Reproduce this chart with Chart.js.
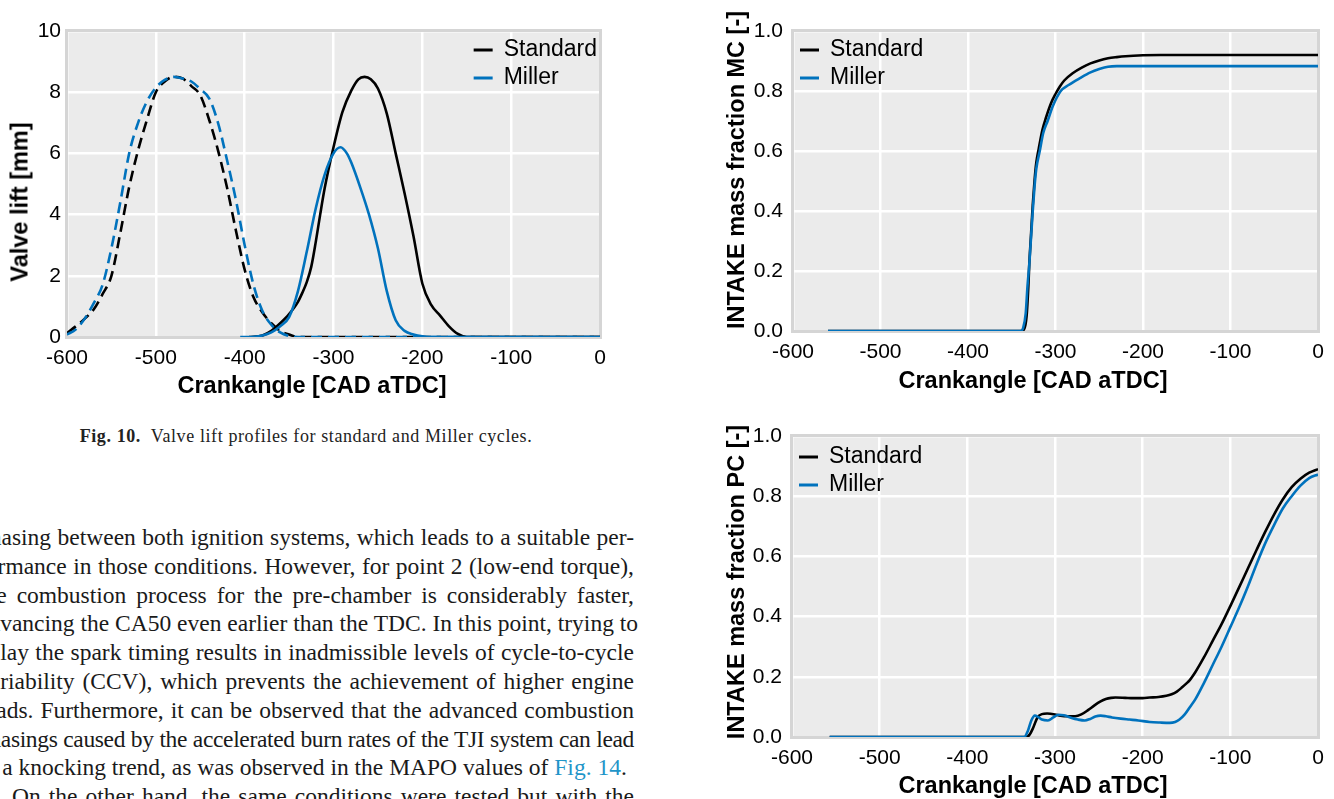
<!DOCTYPE html>
<html>
<head>
<meta charset="utf-8">
<script src="https://cdn.jsdelivr.net/npm/chart.js@4.4.1/dist/chart.umd.min.js"></script>
<style>
  html, body { margin: 0; padding: 0; background: #fff; }
  body { position: relative; width: 1334px; height: 799px; overflow: hidden; }
  canvas { position: absolute; }
  .axt {
    position: absolute; white-space: nowrap; color: #000;
    font: bold 23.5px "Liberation Sans", Arial, sans-serif;
    transform: translate(-50%, -50%);
  }
  .axt.v { transform: translate(-50%, -50%) rotate(-90deg); }
  .caption {
    position: absolute; left: 0; width: 612px; top: 426px; text-align: center;
    font: 18px "Liberation Serif", "Times New Roman", serif; letter-spacing: 0.6px; color: #222;
  }
  .body {
    position: absolute; left: -22px; top: 523px; width: 656px;
    font: 23.5px/28.8px "Liberation Serif", "Times New Roman", serif; color: #1a1a1a;
  }
  .body div { text-align: justify; text-align-last: justify; white-space: nowrap; }
  .body div.tight { letter-spacing: -0.35px; }
  .body div.last { text-align-last: left; }
  .body div.indent { text-indent: 34px; text-align-last: justify; }
  .body a { color: #1f95c8; text-decoration: none; }
</style>
</head>
<body>

<canvas id="lift" width="620" height="400" style="left:0;top:0"></canvas>
<canvas id="mc" width="634" height="400" style="left:700px;top:0"></canvas>
<canvas id="pc" width="634" height="399" style="left:700px;top:400px"></canvas>

<div class="axt v" style="left:20px;top:202px">Valve lift [mm]</div>
<div class="axt" style="left:312px;top:385px">Crankangle [CAD aTDC]</div>
<div class="axt v" style="left:736px;top:170px">INTAKE mass fraction MC [-]</div>
<div class="axt" style="left:1033px;top:380px">Crankangle [CAD aTDC]</div>
<div class="axt v" style="left:736px;top:582px">INTAKE mass fraction PC [-]</div>
<div class="axt" style="left:1033px;top:785px">Crankangle [CAD aTDC]</div>

<div class="caption"><b>Fig. 10.</b>&nbsp; Valve lift profiles for standard and Miller cycles.</div>

<div class="body">
  <div>phasing between both ignition systems, which leads to a suitable per-</div>
  <div>formance in those conditions. However, for point 2 (low-end torque),</div>
  <div>the combustion process for the pre-chamber is considerably faster,</div>
  <div>advancing the CA50 even earlier than the TDC. In this point, trying to</div>
  <div>delay the spark timing results in inadmissible levels of cycle-to-cycle</div>
  <div>variability (CCV), which prevents the achievement of higher engine</div>
  <div>loads. Furthermore, it can be observed that the advanced combustion</div>
  <div class="tight">phasings caused by the accelerated burn rates of the TJI system can lead</div>
  <div class="last">to a knocking trend, as was observed in the MAPO values of <a>Fig. 14</a>.</div>
  <div class="indent">On the other hand, the same conditions were tested but with the</div>
</div>

<script>
// valve lift [mm] vs crank angle [CAD aTDC]
const stdExhaustCad  = [-600, -590, -580, -570, -560, -550, -540, -530, -520, -510, -500, -490, -480, -470, -460, -450, -440, -430, -420, -410, -400, -390, -380, -370, -360, -350, -340, 0];
const stdExhaustLift = [0.13, 0.35, 0.6, 0.9, 1.4, 2.0, 3.4, 4.9, 6.1, 7.1, 8.0, 8.35, 8.5, 8.45, 8.2, 7.9, 7.1, 6.1, 4.9, 3.5, 2.2, 1.3, 0.8, 0.45, 0.2, 0.08, 0, 0];
const milExhaustCad  = [-600, -590, -580, -570, -560, -550, -540, -530, -520, -510, -500, -490, -480, -470, -460, -450, -440, -430, -420, -410, -400, -390, -380, -370, -360, -350, -340, 0];
const milExhaustLift = [0.08, 0.25, 0.6, 1.1, 1.7, 2.9, 4.4, 6.0, 7.0, 7.7, 8.15, 8.4, 8.5, 8.45, 8.35, 8.1, 7.8, 7.0, 5.8, 4.5, 3.0, 1.7, 0.85, 0.4, 0.15, 0.03, 0, 0];
const stdIntakeCad   = [-395, -380, -370, -360, -350, -340, -335, -330, -325, -320, -315, -310, -300, -290, -280, -272, -265, -258, -250, -240, -230, -220, -210, -200, -190, -180, -170, -160, -150, 0];
const stdIntakeLift  = [0, 0.05, 0.2, 0.45, 0.75, 1.15, 1.45, 1.8, 2.3, 3.1, 4.0, 4.85, 6.2, 7.35, 8.05, 8.42, 8.5, 8.42, 8.12, 7.3, 6.0, 4.7, 3.3, 1.75, 1.05, 0.7, 0.35, 0.1, 0, 0];
const milIntakeCad   = [-405, -390, -380, -370, -360, -350, -340, -330, -320, -310, -300, -292, -285, -280, -270, -260, -250, -240, -230, -220, -210, -200, -190, 0];
const milIntakeLift  = [0, 0.01, 0.05, 0.15, 0.35, 0.65, 1.5, 2.8, 4.2, 5.3, 6.0, 6.2, 6.0, 5.7, 4.9, 4.0, 2.9, 1.5, 0.55, 0.2, 0.08, 0.02, 0, 0];

// intake mass fraction, main chamber
const mcStdCad  = [-560, -340, -336, -333, -331, -330, -328, -326, -324, -322, -319, -315, -311, -305, -300, -295, -290, -280, -270, -260, -250, -240, -230, -220, -200, -180, 0];
const mcStdFrac = [0, 0, 0.005, 0.05, 0.15, 0.22, 0.32, 0.42, 0.5, 0.56, 0.61, 0.67, 0.71, 0.76, 0.79, 0.815, 0.835, 0.86, 0.878, 0.892, 0.902, 0.909, 0.913, 0.916, 0.919, 0.92, 0.92];
const mcMilCad  = [-560, -340, -337, -334, -332, -330, -328, -326, -324, -322, -318, -314, -309, -303, -294, -285, -272, -260, -250, -240, -230, 0];
const mcMilFrac = [0, 0, 0.01, 0.06, 0.15, 0.22, 0.31, 0.40, 0.48, 0.54, 0.6, 0.66, 0.7, 0.75, 0.8, 0.82, 0.843, 0.862, 0.873, 0.881, 0.883, 0.883];

// intake mass fraction, pre-chamber
const pcStdCad  = [-557, -333, -329, -325, -320, -315, -309, -300, -294, -285, -277, -270, -262, -255, -248, -242, -236, -231, -220, -211, -200, -192, -182, -173, -167, -161, -155, -150, -146, -140, -130, -120, -110, -100, -90, -80, -70, -60, -50, -40, -30, -20, -10, 0];
const pcStdFrac = [0, 0, 0.008, 0.03, 0.065, 0.076, 0.078, 0.075, 0.071, 0.069, 0.069, 0.075, 0.09, 0.105, 0.118, 0.126, 0.13, 0.131, 0.13, 0.129, 0.129, 0.131, 0.133, 0.137, 0.142, 0.151, 0.165, 0.178, 0.19, 0.215, 0.265, 0.32, 0.375, 0.435, 0.497, 0.56, 0.622, 0.683, 0.74, 0.79, 0.83, 0.858, 0.878, 0.89];
const pcMilCad  = [-557, -335, -331, -327, -323, -319, -315, -308, -302, -296, -290, -281, -274, -266, -260, -254, -248, -242, -235, -225, -215, -205, -192, -180, -169, -163, -158, -152, -146, -140, -130, -120, -110, -100, -90, -80, -70, -60, -50, -40, -30, -20, -10, 0];
const pcMilFrac = [0, 0, 0.02, 0.055, 0.071, 0.066, 0.058, 0.055, 0.065, 0.074, 0.072, 0.063, 0.058, 0.055, 0.06, 0.068, 0.071, 0.069, 0.065, 0.061, 0.058, 0.055, 0.05, 0.048, 0.047, 0.05, 0.058, 0.075, 0.1, 0.125, 0.18, 0.24, 0.3, 0.365, 0.43, 0.5, 0.575, 0.645, 0.705, 0.76, 0.8, 0.835, 0.86, 0.872];

const xTicks = [-600, -500, -400, -300, -200, -100, 0];
const BLACK = '#000000';
const BLUE = '#0072bd';
const FONT = '"Liberation Sans", Arial, sans-serif';

const pts = (xs, ys) => xs.map((x, i) => ({x: x, y: ys[i]}));

// grey axes box with a light frame, drawn under the curves
const plotBox = {
  id: 'plotBox',
  beforeDraw(chart) {
    const {ctx, chartArea: a} = chart;
    ctx.save();
    ctx.fillStyle = '#ebebeb';
    ctx.fillRect(a.left, a.top, a.width, a.height);
    ctx.restore();
  },
  beforeDatasetsDraw(chart) {
    const {ctx, chartArea: a} = chart;
    ctx.save();
    ctx.strokeStyle = '#d5d5d5';
    ctx.lineWidth = 3;
    ctx.strokeRect(a.left - 0.5, a.top - 0.5, a.width + 1, a.height + 1);
    ctx.restore();
  }
};

// legend sitting inside the axes box
const boxLegend = {
  id: 'boxLegend',
  afterDatasetsDraw(chart, args, o) {
    const {ctx, chartArea: a} = chart;
    const items = chart.data.datasets.filter(d => d.inLegend);
    ctx.save();
    ctx.font = '23px ' + FONT;
    ctx.textBaseline = 'middle';
    const w = Math.max(...items.map(d => ctx.measureText(d.label).width));
    const tx = o.side === 'right' ? a.right - o.inset - w : a.left + o.inset + 30;
    items.forEach((d, i) => {
      const y = a.top + o.top + i * o.row;
      ctx.strokeStyle = d.borderColor;
      ctx.lineWidth = 3;
      ctx.beginPath();
      ctx.moveTo(tx - 30, y);
      ctx.lineTo(tx - 11, y);
      ctx.stroke();
      ctx.fillStyle = '#000';
      ctx.fillText(d.label, tx, y);
    });
    ctx.restore();
  }
};

function line(label, data, color, extra) {
  return Object.assign({
    label: label,
    data: data,
    borderColor: color,
    backgroundColor: color,
    borderWidth: 2.6,
    pointRadius: 0,
    fill: false,
    cubicInterpolationMode: 'monotone'
  }, extra || {});
}

function makeChart(id, datasets, cfg) {
  return new Chart(document.getElementById(id), {
    type: 'line',
    data: {datasets: datasets},
    plugins: [plotBox, boxLegend],
    options: {
      responsive: false,
      animation: false,
      events: [],
      layout: {padding: cfg.padding},
      plugins: {
        legend: {display: false},
        tooltip: {enabled: false},
        boxLegend: cfg.legend
      },
      scales: {
        x: {
          type: 'linear',
          min: -600,
          max: 0,
          afterBuildTicks: s => { s.ticks = xTicks.map(v => ({value: v})); },
          afterFit: s => { s.height = 32; },
          grid: {color: '#ffffff', lineWidth: 2.5, drawTicks: false},
          border: {display: false},
          ticks: {color: '#000', padding: 9, font: {family: FONT, size: 21}, maxRotation: 0, autoSkip: false}
        },
        y: {
          type: 'linear',
          min: 0,
          max: cfg.yMax,
          afterFit: s => { s.width = cfg.yWidth; },
          grid: {color: '#ffffff', lineWidth: 2.5, drawTicks: false},
          border: {display: false},
          ticks: {
            color: '#000', padding: cfg.yPad, stepSize: cfg.yStep,
            font: {family: FONT, size: 21},
            callback: cfg.yFormat
          }
        }
      }
    }
  });
}

makeChart('lift', [
  line('Standard', pts(stdIntakeCad, stdIntakeLift), BLACK, {inLegend: true, order: 2}),
  line('Miller', pts(milIntakeCad, milIntakeLift), BLUE, {inLegend: true, order: 1}),
  line('Standard exhaust', pts(stdExhaustCad, stdExhaustLift), BLACK, {borderDash: [11, 6], order: 4}),
  line('Miller exhaust', pts(milExhaustCad, milExhaustLift), BLUE, {borderDash: [11, 6], order: 3})
], {
  padding: {left: 0, top: 31, right: 20, bottom: 31},
  yMax: 10, yStep: 2, yWidth: 67, yPad: 6,
  yFormat: v => String(v),
  legend: {side: 'right', inset: 3, top: 19, row: 28}
});

makeChart('mc', [
  line('Standard', pts(mcStdCad, mcStdFrac), BLACK, {inLegend: true, order: 2}),
  line('Miller', pts(mcMilCad, mcMilFrac), BLUE, {inLegend: true, order: 1})
], {
  padding: {left: 0, top: 31, right: 16, bottom: 37},
  yMax: 1, yStep: 0.2, yWidth: 93, yPad: 10,
  yFormat: v => v.toFixed(1),
  legend: {side: 'left', inset: 7, top: 19, row: 28}
});

makeChart('pc', [
  line('Standard', pts(pcStdCad, pcStdFrac), BLACK, {inLegend: true, order: 2}),
  line('Miller', pts(pcMilCad, pcMilFrac), BLUE, {inLegend: true, order: 1})
], {
  padding: {left: 0, top: 36, right: 16, bottom: 30},
  yMax: 1, yStep: 0.2, yWidth: 92, yPad: 10,
  yFormat: v => v.toFixed(1),
  legend: {side: 'left', inset: 7, top: 21, row: 28}
});
</script>
</body>
</html>
